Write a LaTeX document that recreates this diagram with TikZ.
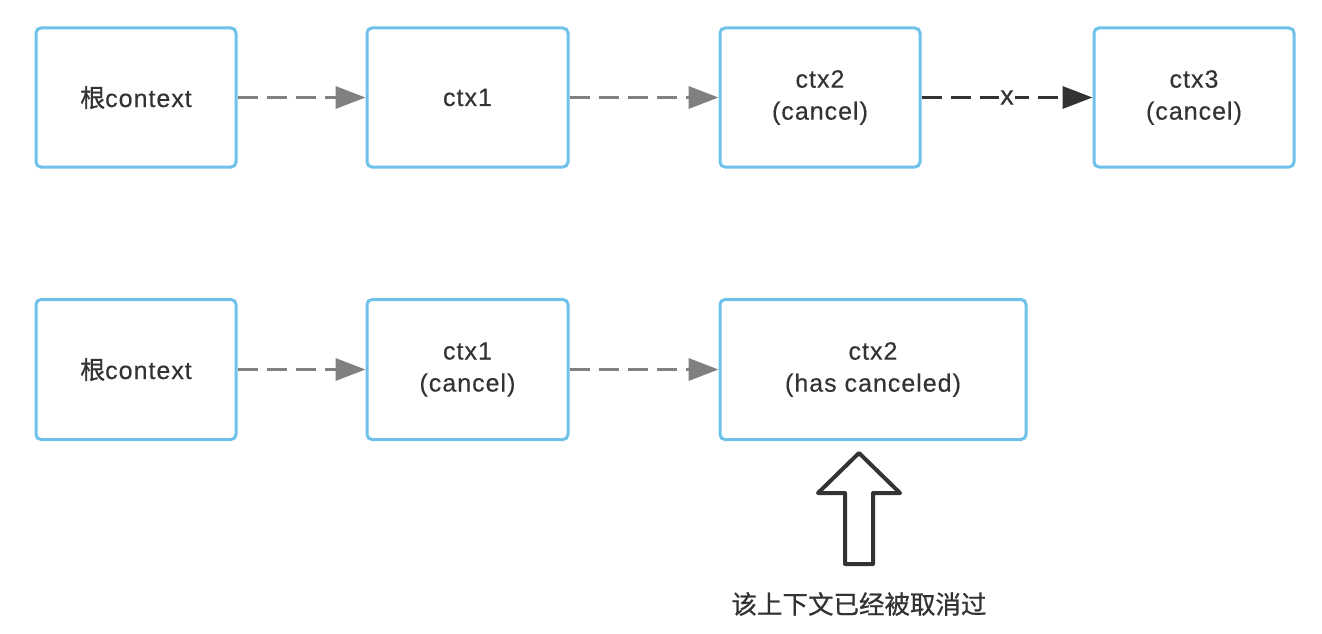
\documentclass[tikz,border=0pt]{standalone}
\usepackage{fontspec}
\setmainfont{Liberation Sans}[LetterSpace=4,FakeBold=0.3]
\newfontfamily\cjk{Noto Sans CJK SC}[FakeBold=0.8]
\usetikzlibrary{arrows.meta}
\definecolor{boxblue}{HTML}{6EC1EA}
\definecolor{txt}{HTML}{333333}
\definecolor{arrgray}{HTML}{808080}
\begin{document}
\begin{tikzpicture}[x=1pt,y=-1pt,
  ctxbox/.style={draw=boxblue,line width=3pt,rounded corners=5pt,fill=white,
    text=txt,align=center,inner sep=0pt,
    font=\fontsize{25}{32}\selectfont},
  link/.style={arrgray,line width=3.5pt,dash pattern=on 20pt off 9pt,
    -{Triangle[length=30pt,width=22pt]}},
  blink/.style={txt,line width=3.5pt,dash pattern=on 20pt off 9pt,
    -{Triangle[length=30pt,width=22pt]}}]
\useasboundingbox (0,0) rectangle (1322,634);
% row 1
\node[ctxbox,minimum width=200pt,minimum height=139pt] (a1) at (136,97.5) {{\cjk 根}context};
\node[ctxbox,minimum width=201pt,minimum height=139pt] (b1) at (467.5,97.5) {ctx1};
\node[ctxbox,minimum width=200pt,minimum height=139pt] (c1) at (820,97.5) {ctx2\\(cancel)};
\node[ctxbox,minimum width=200pt,minimum height=139pt] (d1) at (1194,97.5) {ctx3\\(cancel)};
% row 2
\node[ctxbox,minimum width=200pt,minimum height=140pt] (a2) at (136,369.5) {{\cjk 根}context};
\node[ctxbox,minimum width=201pt,minimum height=140pt] (b2) at (467.5,369.5) {ctx1\\(cancel)};
\node[ctxbox,minimum width=306pt,minimum height=140pt] (c2) at (873,369.5) {ctx2\\(has canceled)};
% connectors
\draw[blink] (c1.east) -- node[fill=white,inner sep=1pt,text=txt,font=\fontsize{27}{27}\selectfont] (xl) {x} (d1.west);
\draw[link] (a1.east) -- (b1.west);
\draw[link] (b1.east) -- (c1.west);
\draw[link] (a2.east) -- (b2.west);
\draw[link] (b2.east) -- (c2.west);
% block arrow
\draw[txt,line width=4pt,line join=round] (859,453) -- (900,493) -- (873,493) -- (873,564) -- (845,564) -- (845,493) -- (818,493) -- cycle;
\node[text=txt,font=\cjk\fontsize{25.5}{25.5}\selectfont] (note) at (859,604) {该上下文已经被取消过};
\end{tikzpicture}
\end{document}
